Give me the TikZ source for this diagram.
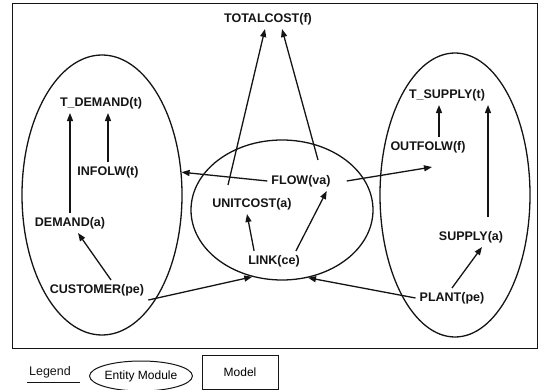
\documentclass[tikz,border=0pt]{standalone}
\usepackage{fontspec}
\setmainfont{Liberation Sans}
\usepackage{xcolor}
\definecolor{inkblack}{RGB}{20, 20, 20}
\usepackage{tikz}
\usetikzlibrary{arrows.meta, positioning, calc, shapes.geometric}

\begin{document}
\begin{tikzpicture}[x=1pt, y=-1pt, >={Triangle[length=8pt, width=6pt]},
    lbl/.style={inner sep=4pt, font=\fontsize{12.5}{14}\selectfont\bfseries, text=inkblack},
    module/.style={draw=inkblack, ellipse, line width=1.3pt, inner sep=0pt},
    link/.style={->, line width=1.3pt, draw=inkblack}]
    \useasboundingbox (0,0) rectangle (541,390);
    \draw[line width=1pt, inkblack] (12,4) rectangle (537,348);
    % entity modules
    \node[module, minimum width=160pt, minimum height=280pt] (demandmod) at (102,195) {};
    \node[module, minimum width=182pt, minimum height=140pt] (linkmod) at (282,210) {};
    \node[module, minimum width=150pt, minimum height=284pt] (supplymod) at (455,195) {};
    % labels
    \node[lbl] (totalcost) at (268,19) {TOTALCOST(f)};
    \node[lbl] (tdemand) at (101,103) {T\_DEMAND(t)};
    \node[lbl] (infolw) at (108,172) {INFOLW(t)};
    \node[lbl] (demand) at (70,223) {DEMAND(a)};
    \node[lbl] (customer) at (97,290) {CUSTOMER(pe)};
    \node[lbl] (flow) at (301,181) {FLOW(va)};
    \node[lbl] (unitcost) at (252,204) {UNITCOST(a)};
    \node[lbl] (link) at (274,261) {LINK(ce)};
    \node[lbl] (tsupply) at (447,95) {T\_SUPPLY(t)};
    \node[lbl] (outfolw) at (428,147) {OUTFOLW(f)};
    \node[lbl] (supply) at (471,237) {SUPPLY(a)};
    \node[lbl] (plant) at (452,298) {PLANT(pe)};
    % arrows
    \draw[link] (demand.north) -- (demand.north |- tdemand.south);
    \draw[link] (infolw.north) -- (infolw.north |- tdemand.south);
    \draw[link] ([xshift=14pt]customer.north) -- ([xshift=8pt]demand.south);
    \draw[link] (customer.south east) -- (linkmod.-114);
    \draw[link] ([xshift=10pt]link.north west) -- ([xshift=-5pt]unitcost.south);
    \draw[link] ([xshift=-8pt]link.north east) -- ([xshift=-8pt]flow.south east);
    \draw[link] ([xshift=-24pt,yshift=9pt]unitcost.north) -- ([xshift=-3pt]totalcost.south);
    \draw[link] ([xshift=17pt,yshift=11pt]flow.north) -- ([xshift=14pt]totalcost.south);
    \draw[link] (flow.west) -- (demandmod.16);
    \draw[link] ([xshift=12pt]flow.east) -- ([xshift=4pt,yshift=-10pt]outfolw.south);
    \draw[link] ([xshift=-8pt]tsupply.south |- outfolw.north) -- ([xshift=-8pt]tsupply.south);
    \draw[link] ([xshift=17pt,yshift=10pt]supply.north) -- ([xshift=17pt]supply.north |- tsupply.south);
    \draw[link] (plant.north) -- ([xshift=11pt]supply.south);
    \draw[link] (plant.west) -- (linkmod.-69);
    % legend
    \node[font=\fontsize{12.5}{14}\selectfont, text=inkblack, inner sep=1pt] (legend) at (50,372) {Legend};
    \draw[line width=1pt, inkblack] ([xshift=-1pt,yshift=-3pt]legend.south west) -- ([xshift=8pt,yshift=-3pt]legend.south east);
    \node[module, line width=1pt, minimum width=102pt, minimum height=30pt, font=\fontsize{12}{14}\selectfont] (entity) at (141,376) {Entity Module};
    \node[draw=inkblack, line width=1pt, minimum width=76pt, minimum height=34pt, font=\fontsize{12}{14}\selectfont] (model) at (240,372) {Model};
\end{tikzpicture}
\end{document}
